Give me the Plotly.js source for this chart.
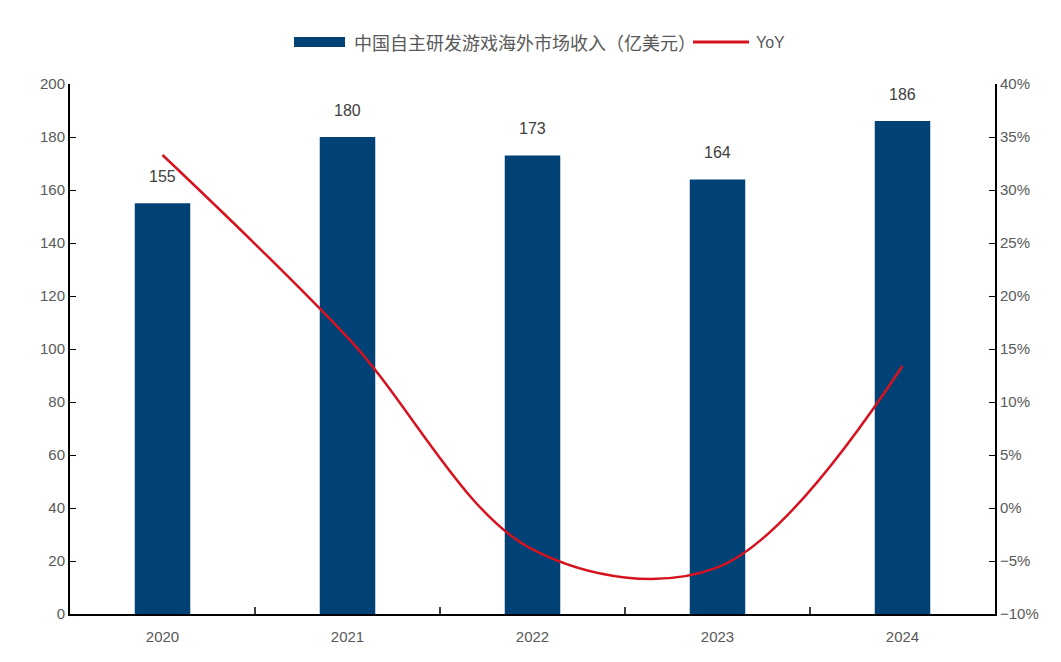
<!DOCTYPE html>
<html><head><meta charset="utf-8">
<script src="https://cdn.plot.ly/plotly-3.0.1.min.js"></script>
<style>body{margin:0;background:#fff}#c{width:1061px;height:662px}</style>
</head><body><div id="c"></div>
<script>
const years = ['2020','2021','2022','2023','2024'];
const revenue = [155, 180, 173, 164, 186];
const yoy = [33.3, 16.1, -3.9, -5.6, 13.4];
const barName = '中国自主研发游戏海外市场收入(亿美元)';
const lineName = 'YoY';

const FAM = '"Liberation Sans", "Noto Sans CJK SC", Arial, sans-serif';
const GREY = '#595959';
const BLUE = '#004276';
const RED = '#d7121f';

const W = 1061, H = 662, L = 70, R = 66, T = 84, B = 48;
const PW = W - L - R, PH = H - T - B;
const px = v => (v - L) / PW;       // pixel x -> paper
const py = v => (H - B - v) / PH;   // pixel y -> paper

const traces = [
  {type:'bar', x: years, y: revenue, name: barName, marker:{color:BLUE}, hoverinfo:'none', showlegend:false},
  {type:'scatter', mode:'lines', x: years, y: yoy, name: lineName, yaxis:'y2', showlegend:false,
   line:{color:RED, width:2.5, shape:'spline', smoothing:1.0}}
];

const annotations = revenue.map((v, i) => ({
  x: i, y: v, xref:'x', yref:'y', text: String(v), showarrow:false,
  yanchor:'middle', yshift:27, font:{size:16, color:'#404040', family:FAM}
}));
annotations.push({xref:'paper', yref:'paper', x:px(352), y:py(42), xanchor:'left', yanchor:'middle',
  text: barName.replace('(', '\uFF08').replace(')', '\uFF09'), showarrow:false, font:{size:18, color:GREY, family:'"Noto Sans CJK SC", sans-serif'}});
annotations.push({xref:'paper', yref:'paper', x:px(754), y:py(42), xanchor:'left', yanchor:'middle',
  text: lineName, showarrow:false, font:{size:16, color:GREY, family:FAM}});

const shapes = [1,2,3,4].map(k => ({type:'line', xref:'paper', yref:'paper', x0:k/years.length, x1:k/years.length, y0:0, y1:py(607), line:{color:'#000', width:1.5}}));
shapes.push({type:'rect', xref:'paper', yref:'paper', x0:px(294), x1:px(345), y0:py(47), y1:py(37), fillcolor:BLUE, line:{width:0}});
shapes.push({type:'line', xref:'paper', yref:'paper', x0:px(693), x1:px(749), y0:py(42), y1:py(42), line:{color:RED, width:3}});

const layout = {
  width:W, height:H, margin:{l:L, r:R, t:T, b:B}, showlegend:false,
  paper_bgcolor:'#fff', plot_bgcolor:'#fff', font:{family:FAM, size:15, color:GREY},
  bargap:0.7,
  xaxis:{type:'category', range:[-0.5, years.length-0.5], showline:true, linecolor:'#000', linewidth:2, ticks:'', tickfont:{size:15, color:GREY},
         showgrid:false, zeroline:false, ticklabelstandoff:8},
  yaxis:{range:[0,200], dtick:20, showline:true, linecolor:'#000', linewidth:2, ticks:'inside', ticklen:6, tickcolor:'#000',
         showgrid:false, zeroline:false, tickfont:{size:15, color:GREY}},
  yaxis2:{overlaying:'y', side:'right', range:[-10,40], dtick:5, ticksuffix:'%', showline:true, linecolor:'#000', linewidth:2,
          ticks:'inside', ticklen:6, tickcolor:'#000', showgrid:false, zeroline:false, tickfont:{size:15, color:GREY}},
  annotations: annotations, shapes: shapes
};
Plotly.newPlot('c', traces, layout, {displayModeBar:false, staticPlot:true});
</script></body></html>
